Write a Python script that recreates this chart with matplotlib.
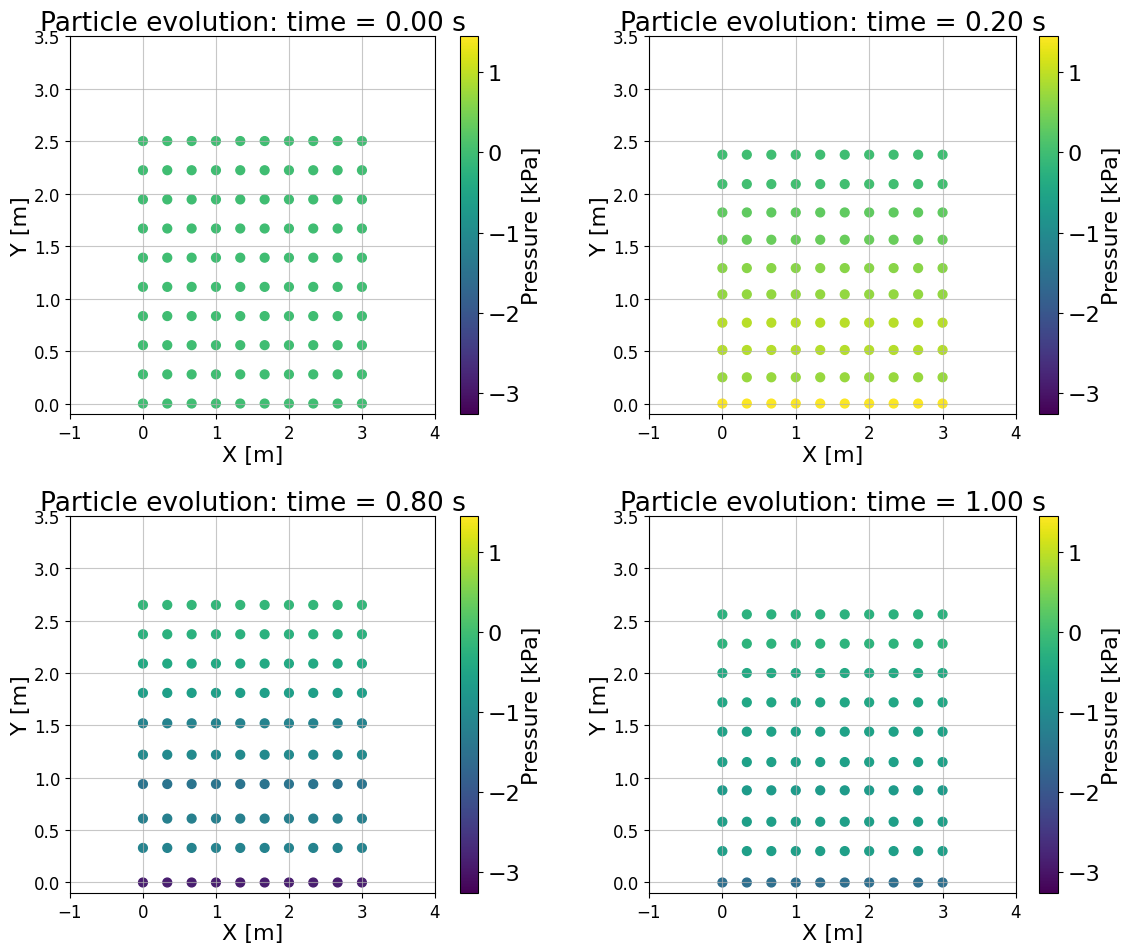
import numpy as np
import matplotlib
matplotlib.use("Agg")
import matplotlib.pyplot as plt

# ---- data ----
x_cols = [0.0, 0.333, 0.667, 1.0, 1.333, 1.667, 2.0, 2.333, 2.667, 3.0]

times = [0.00, 0.20, 0.80, 1.00]

y_rows_t000 = [0.0, 0.278, 0.556, 0.833, 1.111, 1.389, 1.667, 1.944, 2.222, 2.5]
p_rows_t000 = [0.0, 0.0, 0.0, 0.0, 0.0, 0.0, 0.0, 0.0, 0.0, 0.0]

y_rows_t020 = [0.0, 0.25, 0.51, 0.77, 1.04, 1.29, 1.56, 1.82, 2.09, 2.37]
p_rows_t020 = [1.42, 0.72, 0.92, 0.95, 0.68, 0.62, 0.38, 0.30, 0.02, 0.0]

y_rows_t080 = [0.0, 0.33, 0.61, 0.94, 1.22, 1.52, 1.81, 2.09, 2.37, 2.65]
p_rows_t080 = [-2.88, -1.15, -1.22, -1.45, -1.02, -1.15, -0.62, -0.42, -0.25, -0.15]

y_rows_t100 = [0.0, 0.30, 0.58, 0.88, 1.15, 1.44, 1.72, 2.00, 2.28, 2.56]
p_rows_t100 = [-1.55, -0.62, -0.62, -0.70, -0.58, -0.55, -0.45, -0.42, -0.22, -0.25]

vmin, vmax = -3.26, 1.45

panels = [
    (times[0], y_rows_t000, p_rows_t000),
    (times[1], y_rows_t020, p_rows_t020),
    (times[2], y_rows_t080, p_rows_t080),
    (times[3], y_rows_t100, p_rows_t100),
]

fig = plt.figure(figsize=(11.23, 9.45), dpi=100)

ax_pos = [
    (0.0623, 0.5608, 0.3250, 0.400),
    (0.5779, 0.5608, 0.3268, 0.400),
    (0.0623, 0.0540, 0.3250, 0.399),
    (0.5779, 0.0540, 0.3268, 0.399),
]
cb_pos = [
    (0.4096, 0.5608, 0.016, 0.400),
    (0.9252, 0.5608, 0.017, 0.400),
    (0.4096, 0.0540, 0.016, 0.399),
    (0.9252, 0.0540, 0.017, 0.399),
]

for (t, yr, pr), ap, cp in zip(panels, ax_pos, cb_pos):
    ax = fig.add_axes(ap)
    X, Y = np.meshgrid(x_cols, yr)
    P = np.tile(np.array(pr)[:, None], (1, len(x_cols)))
    sc = ax.scatter(X.ravel(), Y.ravel(), c=P.ravel(), cmap="viridis",
                    vmin=vmin, vmax=vmax, s=40, zorder=1)
    ax.set_xlim(-1, 4)
    ax.set_ylim(-0.1, 3.5)
    ax.set_xticks([-1, 0, 1, 2, 3, 4])
    ax.set_yticks([0.0, 0.5, 1.0, 1.5, 2.0, 2.5, 3.0, 3.5])
    ax.grid(True, color="#b0b0b0", alpha=0.7)
    ax.tick_params(labelsize=12)
    ax.set_xlabel("X [m]", fontsize=16, labelpad=2)
    ax.set_ylabel("Y [m]", fontsize=16, labelpad=2)
    ax.set_title(f"Particle evolution: time = {t:.2f} s", fontsize=19, pad=4)
    cax = fig.add_axes(cp)
    cb = fig.colorbar(sc, cax=cax)
    cb.set_ticks([-3, -2, -1, 0, 1])
    cb.ax.tick_params(labelsize=16)
    cb.set_label("Pressure [kPa]", fontsize=16, labelpad=1)

fig.savefig("out.png", dpi=100)
